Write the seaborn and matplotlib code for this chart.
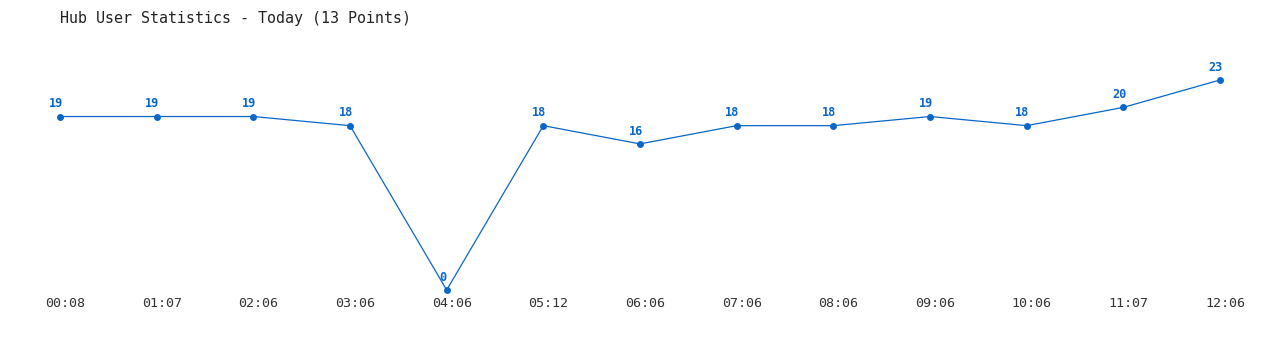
import matplotlib
matplotlib.use("Agg")
import matplotlib.pyplot as plt
import matplotlib.transforms as mtransforms
import seaborn as sns
import pandas as pd

times = ["00:08", "01:07", "02:06", "03:06", "04:06", "05:12", "06:06",
         "07:06", "08:06", "09:06", "10:06", "11:07", "12:06"]
users = [19, 19, 19, 18, 0, 18, 16, 18, 18, 19, 18, 20, 23]
title = "Hub User Statistics - Today (13 Points)"

color = "#0a66c8"
sns.set_theme(style="white")
plt.rcParams['font.family'] = ['DejaVu Sans Mono']

df = pd.DataFrame({"idx": range(len(times)), "users": users})

fig = plt.figure(figsize=(12.8, 3.5), dpi=100)
W, H = 1280, 350
ax = fig.add_axes([60 / W, 60 / H, 1160 / W, 210 / H])
sns.lineplot(data=df, x="idx", y="users", ax=ax, color=color, linewidth=0.9,
             marker="o", markersize=5, markeredgewidth=0, clip_on=False)
ax.set_xlim(0, len(times) - 1)
ax.set_ylim(0, 23)
for s in ax.spines.values():
    s.set_visible(False)
ax.set_xticks(range(len(times)))
ax.set_xticklabels(times, fontsize=9.6, color="#333333")
ax.tick_params(axis="x", length=0, pad=5)
shift = mtransforms.ScaledTranslation(5 / 100, 0, fig.dpi_scale_trans)
for lab in ax.get_xticklabels():
    lab.set_transform(lab.get_transform() + shift)
ax.set_yticks([])
ax.set_xlabel("")
ax.set_ylabel("")
for i, v in enumerate(users):
    ax.annotate(str(v), (i, v), xytext=(-3, 4.5), textcoords="offset points",
                ha="center", va="bottom", fontsize=8.6, fontweight="bold",
                color=color, annotation_clip=False)
fig.text(60 / W, 1 - 18 / H, title, fontsize=10.8, color="#222222",
         ha="left", va="center")
fig.savefig("out.png", dpi=100, facecolor="white")
